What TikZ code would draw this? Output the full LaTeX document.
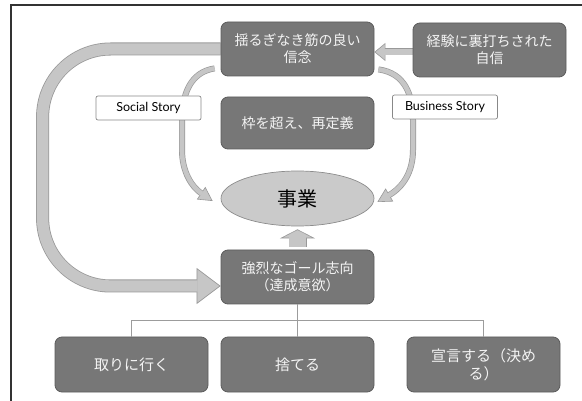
\documentclass[tikz,border=0pt]{standalone}
\usepackage{fontspec}
\newfontfamily\jp{Noto Sans CJK JP}
\newfontfamily\lato{Lato}
\usetikzlibrary{arrows.meta,calc,shapes.geometric}
\definecolor{boxfill}{HTML}{777777}
\definecolor{boxedge}{HTML}{5C5C5C}
\definecolor{boxtext}{HTML}{F4F4F4}
\definecolor{bandfill}{HTML}{C6C6C6}
\definecolor{bandedge}{HTML}{999999}
\definecolor{ellfill}{HTML}{CACACA}
\definecolor{elledge}{HTML}{8C8C8C}
\definecolor{framecol}{HTML}{333333}
\definecolor{linkcol}{HTML}{9C9C9C}
\definecolor{labeledge}{HTML}{888888}
\pgfdeclarelayer{bg}
\pgfsetlayers{bg,main}
\begin{document}
\begin{tikzpicture}[x=1pt,y=-1pt,
  darkbox/.style={draw=boxedge, line width=0.8pt, fill=boxfill, rounded corners=7pt,
    minimum width=153pt, minimum height=54pt, text=boxtext,
    font=\jp\fontsize{14}{17}\selectfont, align=center, inner sep=0pt},
  bottombox/.style={darkbox, minimum height=55pt, font=\jp\fontsize{15}{18}\selectfont},
  storylabel/.style={draw=labeledge, line width=0.7pt, fill=white, rounded corners=2pt,
    minimum width=105pt, minimum height=24pt, font=\lato\fontsize{12.5}{14}\selectfont, inner sep=0pt},
  ellnode/.style={ellipse, draw=elledge, line width=0.7pt, fill=ellfill, minimum width=153pt,
    minimum height=55pt, inner sep=0pt, font=\jp\fontsize{20}{24}\selectfont, text=black},
  bandout/.style={draw=bandedge},
  bandin/.style={draw=bandfill},
  linkline/.style={draw=linkcol, line width=0.9pt}
]
\useasboundingbox (0,0) rectangle (582,401);
\draw[framecol, line width=1.1pt] (11,401) -- (11,5) -- (582,5);

\node[darkbox] (top) at (297.5,49) {揺るぎなき筋の良い\\信念};
\node[darkbox] (conf) at (489.5,50) {経験に裏打ちされた\\自信};
\node[darkbox, minimum height=52pt] (waku) at (297.5,123) {枠を超え、再定義};
\node[ellnode] (ev) at (297.5,198.5) {事業};
\node[darkbox] (goal) at (297.5,277) {強烈なゴール志向\\（達成意欲）};
\node[bottombox] (b1) at (131.5,364.5) {取りに行く};
\node[bottombox] (b2) at (297.5,364.5) {捨てる};
\node[bottombox] (b3) at (483.5,364.5) {宣言する（決め\\る）};
\node[storylabel] (social) at (148.5,108) {Social Story};
\node[storylabel] (business) at (445,107) {Business Story};

\coordinate (hub) at ($(goal.south)!0.5!(b2.north)$);
\draw[linkline] (goal.south) -- (b2.north);
\draw[linkline] (b1.north) |- (hub) -| (b3.north);

\begin{pgfonlayer}{bg}
% big loop arrow
\draw[bandout, line width=13pt, rounded corners=68pt,
  -{Triangle[length=24pt,width=36pt,line width=0.7pt,fill=bandfill]}]
  (top.west) -| ($(goal.west)+(-178,9)$) -- ($(goal.west)+(0,9)$);
\draw[bandin, line width=11.4pt, rounded corners=68pt, shorten >=23pt]
  (top.west) -| ($(goal.west)+(-178,9)$) -- ($(goal.west)+(0,9)$);
% social story arc
\draw[bandout, line width=6pt,
  -{Triangle[length=14pt,width=15pt,line width=0.6pt,fill=bandfill]}]
  ($(top.south west)+(-6,-8)$) .. controls (190,72) and (182,95) .. (182,120)
  -- (182,150) .. controls (182,172) and (192,187) .. ($(ev.west)+(-8,2.5)$);
\draw[bandin, line width=4.6pt, shorten >=13pt]
  ($(top.south west)+(-6,-8)$) .. controls (190,72) and (182,95) .. (182,120)
  -- (182,150) .. controls (182,172) and (192,187) .. ($(ev.west)+(-8,2.5)$);
% business story arc
\draw[bandout, line width=6pt,
  -{Triangle[length=14pt,width=15pt,line width=0.6pt,fill=bandfill]}]
  ($(top.south east)+(4,-7)$) .. controls (405,73) and (413,95) .. (413,120)
  -- (413,150) .. controls (413,172) and (403,187) .. ($(ev.east)+(3,3.5)$);
\draw[bandin, line width=4.6pt, shorten >=13pt]
  ($(top.south east)+(4,-7)$) .. controls (405,73) and (413,95) .. (413,120)
  -- (413,150) .. controls (413,172) and (403,187) .. ($(ev.east)+(3,3.5)$);
% confidence -> belief
\draw[bandout, line width=7pt,
  -{Triangle[length=11pt,width=18pt,line width=0.6pt,fill=bandfill]}]
  ($(conf.west)+(0,2)$) -- ($(top.east)+(0,3)$);
\draw[bandin, line width=5.6pt, shorten >=10pt]
  ($(conf.west)+(0,2)$) -- ($(top.east)+(0,3)$);
% goal -> business
\draw[bandout, line width=18pt,
  -{Triangle[length=9pt,width=35pt,line width=0.6pt,fill=bandfill]}]
  ($(goal.north)+(0,-3)$) -- ($(ev.south)+(0,3)$);
\draw[bandin, line width=16.6pt, shorten >=8pt]
  ($(goal.north)+(0,-3)$) -- ($(ev.south)+(0,3)$);
\end{pgfonlayer}
\end{tikzpicture}
\end{document}
